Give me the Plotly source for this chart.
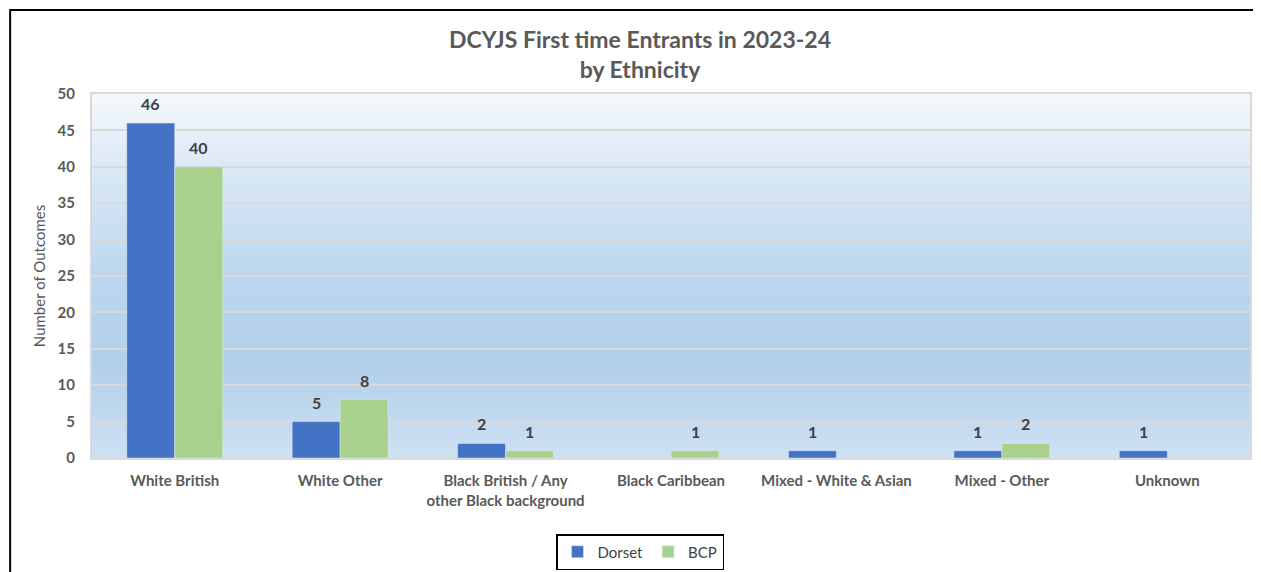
import plotly.graph_objects as go

categories = ["White British", "White Other", "Black British / Any<br>other Black background",
              "Black Caribbean", "Mixed - White & Asian", "Mixed - Other", "Unknown"]
dorset = [46, 5, 2, None, 1, 1, 1]
bcp = [40, 8, 1, 1, None, 2, None]
y_ticks = [0, 5, 10, 15, 20, 25, 30, 35, 40, 45, 50]

FONT = "Lato"
OFF = 8  # page body margin
W, H = 1261 - OFF, 572 - OFF
L, R, T, B = 92 - OFF, 9, 94 - OFF, 114
PW, PH = W - L - R, H - T - B

fig = go.Figure()
fig.add_trace(go.Bar(name="Dorset", x=categories, y=dorset, marker_color="#4472C4"))
fig.add_trace(go.Bar(name="BCP", x=categories, y=bcp, marker_color="#A9D18E"))

annotations = []
for series, shift in ((dorset, -24), (bcp, 24)):
    for c, v in zip(categories, series):
        if v is None:
            continue
        annotations.append(dict(x=c, y=v, xref="x", yref="y", text="<b>%d</b>" % v,
                                showarrow=False, xshift=shift, yanchor="bottom", yshift=8,
                                font=dict(family=FONT, size=16, color="#404040")))

# gradient background strips
stops = [(0.0, (0xcf, 0xe1, 0xf3)), (0.25, (0xb2, 0xcf, 0xea)), (0.5, (0xbc, 0xd6, 0xee)),
         (0.8, (0xdc, 0xe9, 0xf6)), (1.0, (0xf5, 0xf8, 0xfc))]

def col(t):
    for i in range(len(stops) - 1):
        a, ca = stops[i]
        b, cb = stops[i + 1]
        if a <= t <= b:
            f = (t - a) / (b - a)
            c = [round(ca[k] + (cb[k] - ca[k]) * f) for k in range(3)]
            return "rgb(%d,%d,%d)" % tuple(c)
    return "rgb(245,248,252)"

shapes = []
N = 80
for i in range(N):
    shapes.append(dict(type="rect", xref="x domain", yref="y domain", x0=0, x1=1,
                       y0=i / N, y1=(i + 1) / N + 0.002, fillcolor=col((i + 0.5) / N),
                       line=dict(width=0), layer="below"))
# outer border (left + top visible)
shapes.append(dict(type="rect", xref="paper", yref="paper",
                   x0=(10 - OFF - L) / PW, x1=1.2,
                   y0=-0.6, y1=(H - B - (10 - OFF)) / PH,
                   line=dict(color="black", width=2), fillcolor="rgba(0,0,0,0)", layer="above"))

fig.update_layout(
    width=W, height=H,
    margin=dict(l=L, r=R, t=T, b=B),
    paper_bgcolor="white", plot_bgcolor="rgba(0,0,0,0)",
    barmode="group", bargap=0.42, bargroupgap=0,
    font=dict(family=FONT, color="#595959"),
    title=dict(text="<b>DCYJS First time Entrants in 2023-24<br>by Ethnicity</b>",
               x=(640 - OFF) / W, xref="container", xanchor="center",
               y=1 - (48 - OFF) / H, yref="container", yanchor="middle",
               font=dict(family=FONT, size=23, color="#595959")),
    shapes=shapes,
    annotations=annotations,
    showlegend=True,
    legend=dict(orientation="h", xref="container", yref="container", x=(640 - OFF) / W, xanchor="center",
                y=1 - (552 - OFF) / H, yanchor="middle", bordercolor="black", borderwidth=1.5,
                font=dict(family=FONT, size=15, color="#404040"), bgcolor="white",
                traceorder="normal", itemwidth=30, tracegroupgap=0),
    xaxis=dict(tickfont=dict(family=FONT, size=15, color="#595959", weight="bold"),
               showline=True, linecolor="#d9d9d9", linewidth=2, mirror=True,
               ticks="", ticklabelstandoff=8),
    yaxis=dict(range=[0, 50], tickvals=y_ticks, showgrid=True, gridcolor="#d9d9d9", gridwidth=1.5,
               tickfont=dict(family=FONT, size=15, color="#595959", weight="bold"),
               showline=True, linecolor="#d9d9d9", linewidth=2, mirror=True, zeroline=False,
               ticklabelstandoff=12,
               title=dict(text="Number of Outcomes", font=dict(family=FONT, size=15, color="#595959"),
                          standoff=8)),
)

fig.write_html("out.html")
